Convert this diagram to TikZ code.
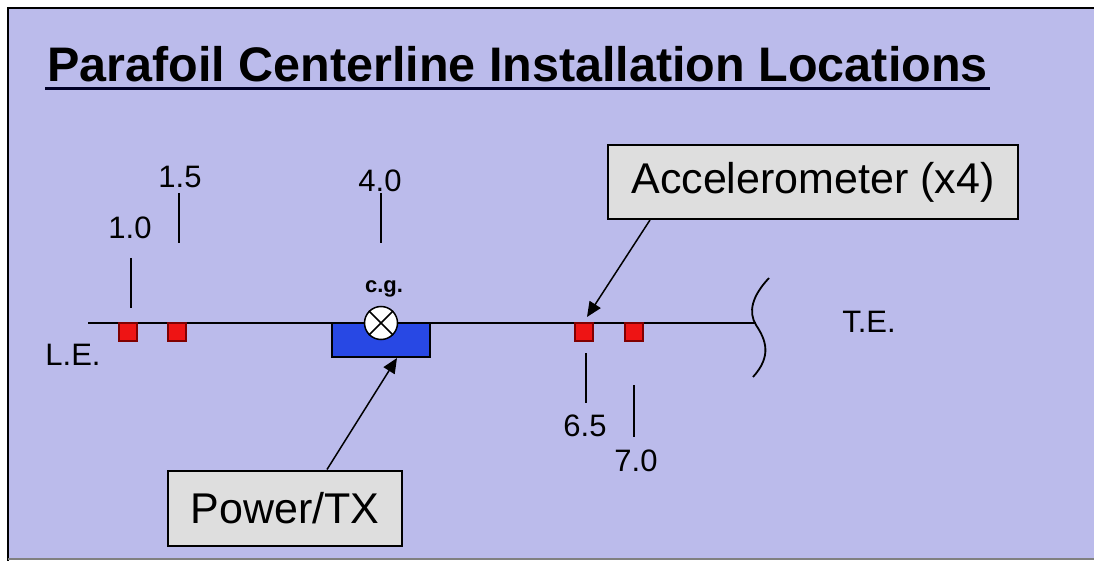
\documentclass[tikz,border=0pt]{standalone}
\usepackage{fontspec}
\setmainfont{Liberation Sans}
\usetikzlibrary{arrows.meta}

\definecolor{slidebg}{RGB}{187,187,235}
\definecolor{boxgray}{RGB}{222,222,222}
\definecolor{bayblue}{RGB}{40,72,228}
\definecolor{senred}{RGB}{238,20,20}

\tikzset{
  callout/.style={draw=black, line width=2pt, fill=boxgray, inner sep=0pt,
    font=\fontsize{43}{50}\selectfont},
  station/.style={inner sep=0pt, font=\fontsize{31}{35}\selectfont},
  sensor/.style={draw=red!50!black, line width=1.2pt, fill=senred},
  tick/.style={line width=1.5pt},
  pointer/.style={line width=1.5pt, -{Triangle[length=15pt,width=13pt]}}
}

\begin{document}
\begin{tikzpicture}[x=1pt,y=-1pt]
    \useasboundingbox (0,0) rectangle (1094,561);

    % Slide background and frame
    \fill[white] (-5,-5) rectangle (1100,566);
    \fill[slidebg] (8,8) rectangle (1100,559);
    \draw[line width=2.5pt] (8,566) -- (8,8) -- (1100,8);
    \draw[gray, line width=2pt] (8,559) -- (1100,559);

    % Title
    \node[anchor=base west, inner sep=0pt, font=\fontsize{48.5}{56}\selectfont\bfseries]
        (title) at (47,82) {Parafoil Centerline Installation Locations};
    \draw[line width=3pt, black!85!blue] (45,89) -- (990,89);

    % Centerline and trailing edge break
    \coordinate (le) at (88,323);
    \coordinate (brk) at (756,323);
    \draw[line width=2pt] (le) -- (brk);
    \draw[line width=1.8pt] (769,278) .. controls (752,296) and (748,312) .. (756,325)
        .. controls (766,340) and (772,356) .. (753,377);

    % Power/TX box and c.g.
    \draw[line width=1.5pt, fill=bayblue] (332,323) rectangle (430,357);
    \coordinate (boxbot) at (397,358);
    \node[circle, draw, line width=1.5pt, fill=white, minimum size=33pt, inner sep=0pt]
        (cg) at (381,323) {};
    \draw[line width=1.5pt] (cg.north west) -- (cg.south east)
                            (cg.north east) -- (cg.south west);
    \node[anchor=base, inner sep=0pt, font=\fontsize{22}{26}\selectfont\bfseries] (cglabel) at (384,292) {c.g.};

    % Sensor squares
    \draw[sensor] (119,323) rectangle (137,341);
    \draw[sensor] (168,323) rectangle (186,341);
    \draw[sensor] (575,323) rectangle (593,341);
    \draw[sensor] (625,323) rectangle (643,341);
    \coordinate (acc) at (587,317);

    % Station ticks and labels
    \node[station] (s10) at (130,228) {1.0};
    \draw[tick] (131,258) -- (131,308);
    \node[station] (s15) at (180,177) {1.5};
    \draw[tick] (179,193) -- (179,243);
    \node[station] (s40) at (380,181) {4.0};
    \draw[tick] (381,193) -- (381,243);
    \node[station] (s65) at (585,426) {6.5};
    \draw[tick] (586,353) -- (586,403);
    \node[station] (s70) at (636,461) {7.0};
    \draw[tick] (634,385) -- (634,437);

    % Edge labels
    \node[station] (lelabel) at (73,355) {L.E.};
    \node[station] (telabel) at (869,322) {T.E.};

    % Callouts
    \node[callout, minimum width=410pt, minimum height=74pt] (accbox) at (813,182) {Accelerometer (x4)};
    \node[callout, minimum width=234pt, minimum height=75pt] (pwrbox) at (285,508) {Power/TX};
    \draw[pointer] (accbox.south west) ++(43,0) -- (acc);
    \draw[pointer] (pwrbox.north) ++(42,0) -- (boxbot);
\end{tikzpicture}
\end{document}
